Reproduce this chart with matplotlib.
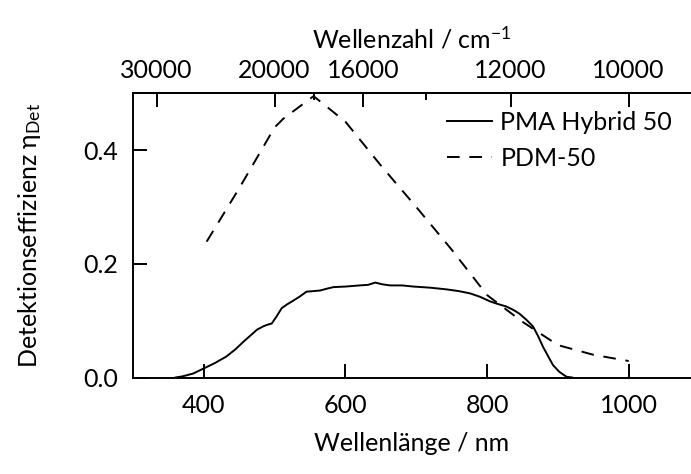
import matplotlib
matplotlib.use("Agg")
import matplotlib.pyplot as plt
import numpy as np

# PMA Hybrid 50 (solid)
pma_wl = [360, 370, 385, 400, 415, 432, 445, 456, 466, 475, 484, 489, 496, 503, 510, 518, 526, 535, 545, 555, 564, 573, 583, 600, 620, 632, 642, 652, 663, 680, 696, 720, 743, 760, 776, 790, 804, 816, 827, 837, 846, 856, 865, 872, 879, 886, 893, 902, 912, 920]
pma_eta = [0.0, 0.002, 0.007, 0.016, 0.025, 0.037, 0.050, 0.063, 0.074, 0.084, 0.090, 0.0925, 0.095, 0.108, 0.122, 0.129, 0.135, 0.142, 0.151, 0.152, 0.153, 0.156, 0.159, 0.160, 0.162, 0.163, 0.167, 0.164, 0.162, 0.162, 0.160, 0.158, 0.155, 0.152, 0.148, 0.142, 0.134, 0.129, 0.125, 0.119, 0.112, 0.101, 0.0896, 0.073, 0.054, 0.038, 0.022, 0.010, 0.0014, 0.0]

# PDM-50 (dashed)
pdm_wl = [404, 450, 500, 512, 555, 600, 650, 700, 750, 800, 850, 900, 950, 1000]
pdm_eta = [0.239, 0.333, 0.440, 0.455, 0.495, 0.450, 0.373, 0.300, 0.225, 0.145, 0.098, 0.057, 0.040, 0.029]

x_ticks = [400, 600, 800, 1000]
y_ticks = [0.0, 0.2, 0.4]
top_major = [30000, 20000, 16000, 12000, 10000]
top_minor = [18000, 14000]

plt.rcParams['font.family'] = ['Lato', 'DejaVu Sans']
plt.rcParams['mathtext.fontset'] = 'custom'
plt.rcParams['mathtext.rm'] = 'Lato'
plt.rcParams['mathtext.it'] = 'Lato:italic'

fig = plt.figure(figsize=(6.91, 4.74), dpi=100)
ax = fig.add_axes([133/691, (474-377.5)/474, 1 - 133/691, (377.5-93.3)/474])

ax.plot(pma_wl, pma_eta, color='black', lw=1.4, label='PMA Hybrid 50')
ax.plot(pdm_wl, pdm_eta, color='black', lw=1.4, dashes=(6.5, 5), label='PDM-50')

ax.set_xlim(300, 1088)
ax.set_ylim(0, 0.5)
ax.spines['right'].set_visible(False)
for s in ['left', 'bottom', 'top']:
    ax.spines[s].set_linewidth(1.4)

ax.set_xticks(x_ticks)
ax.set_yticks(y_ticks)
ax.set_yticklabels(['0.0', '0.2', '0.4'])
ax.tick_params(axis='both', direction='in', length=10, width=1.4, labelsize=18, pad=12)
ax.tick_params(axis='y', pad=11)
ax.set_xlabel('Wellenlänge / nm', fontsize=18, labelpad=11)
ax.set_ylabel('Detektionseffizienz η$_{\\mathrm{Det}}$', fontsize=18, labelpad=29)

sec = ax.secondary_xaxis('top', functions=(lambda w: 1e7 / np.maximum(w, 1e-9), lambda k: 1e7 / np.maximum(k, 1e-9)))
sec.set_xticks(top_major)
sec.set_xticklabels([str(v) for v in top_major])
sec.set_xticks(top_minor, minor=True)
sec.tick_params(axis='x', which='major', direction='in', length=10, width=1.4, labelsize=18, pad=8)
sec.tick_params(axis='x', which='minor', direction='in', length=5, width=1.4)
sec.spines['top'].set_linewidth(1.4)
sec.set_xlabel('Wellenzahl / cm$^{-1}$', fontsize=18, labelpad=8)

ax.legend(loc='upper left', bbox_to_anchor=(0.535, 0.99), frameon=False, fontsize=18,
          handlelength=1.8, handletextpad=0.35, labelspacing=0.5, borderaxespad=0.2)

fig.savefig('out.png', dpi=100)
